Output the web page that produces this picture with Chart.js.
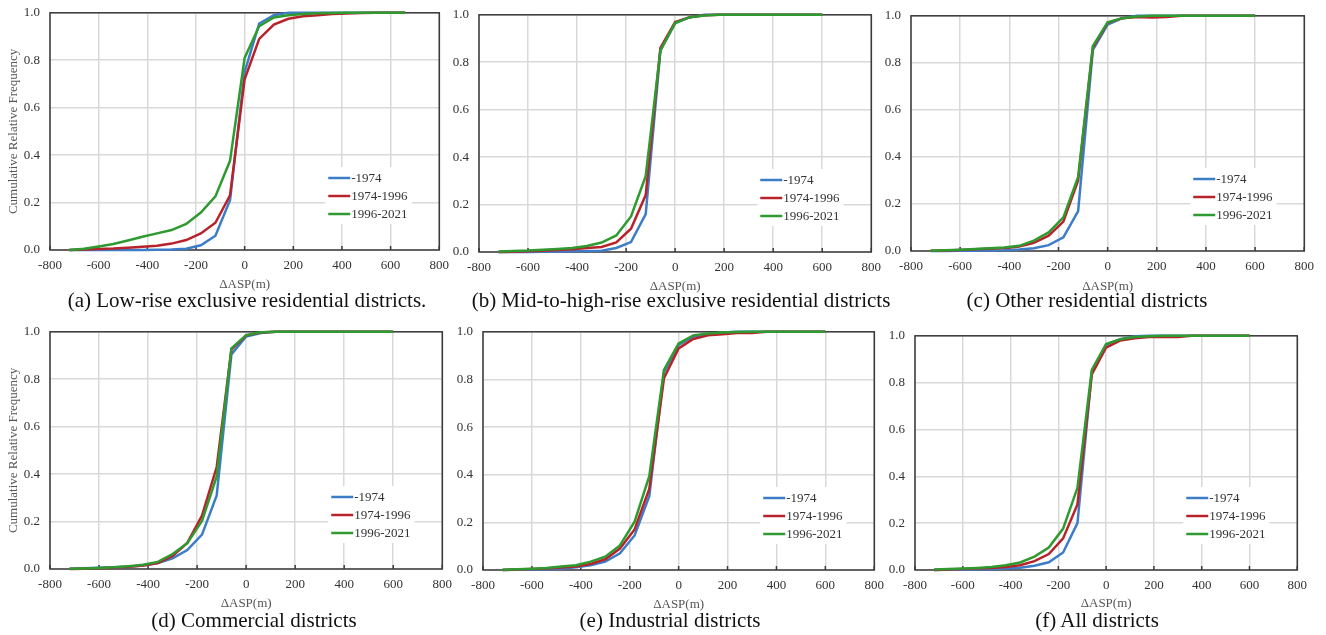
<!DOCTYPE html>
<html>
<head>
<meta charset="utf-8">
<title>Cumulative relative frequency of ΔASP by district</title>
<script src="https://cdn.jsdelivr.net/npm/chart.js@4"></script>
<style>
body{margin:0;background:#fff;width:1326px;height:635px;position:relative;overflow:hidden;font-family:"Liberation Serif","Times New Roman",serif;}
canvas{position:absolute;}
.caption{position:absolute;font-size:21px;color:#111;white-space:nowrap;transform:translate(-50%,-50%);}
</style>
</head>
<body>
<script>

// ΔASP class values (m), shared by all panels
let aspBins = [-720,-660,-600,-540,-480,-420,-360,-300,-240,-180,-120,-60,0,60,120,180,240,300,360,420,480,540,600,660];

let periods = ["-1974","1974-1996","1996-2021"];
let periodColors = ["#3d7dc8","#b8232b","#2e9a30"];

// (a) low-rise exclusive residential
let lowRise1974 = [0,0,0,0,0,0,0.001,0.002,0.005,0.02,0.06,0.21,0.75,0.955,0.99,1,1,1,1,1,1,1,1,1];
let lowRise1996 = [0,0.002,0.004,0.006,0.01,0.014,0.018,0.027,0.042,0.07,0.115,0.23,0.72,0.89,0.95,0.975,0.985,0.99,0.995,0.997,0.999,1,1,1];
let lowRise2021 = [0,0.005,0.015,0.025,0.04,0.056,0.07,0.084,0.11,0.158,0.226,0.376,0.81,0.944,0.98,0.99,0.995,0.998,0.999,1,1,1,1,1];

// (b) mid-to-high-rise exclusive residential
let midHigh1974 = [0,0,0,0.001,0.002,0.003,0.004,0.005,0.017,0.042,0.16,0.85,0.965,0.99,1,1,1,1,1,1,1,1,1];
let midHigh1996 = [0,0.001,0.003,0.005,0.008,0.012,0.017,0.021,0.04,0.098,0.24,0.86,0.97,0.99,0.998,1,1,1,1,1,1,1,1];
let midHigh2021 = [0.002,0.004,0.006,0.01,0.013,0.017,0.025,0.04,0.07,0.15,0.32,0.85,0.965,0.99,0.997,1,1,1,1,1,1,1,1];

// (c) other residential
let otherRes1974 = [0,0,0.001,0.001,0.002,0.003,0.006,0.012,0.025,0.058,0.17,0.855,0.963,0.99,1,1,1,1,1,1,1,1,1];
let otherRes1996 = [0.001,0.002,0.004,0.007,0.01,0.013,0.019,0.035,0.065,0.125,0.3,0.865,0.97,0.99,0.995,0.993,0.995,1,1,1,1,1,1];
let otherRes2021 = [0.001,0.003,0.005,0.008,0.012,0.015,0.022,0.044,0.079,0.143,0.315,0.872,0.972,0.99,0.997,1,1,1,1,1,1,1,1];

// (d) commercial
let commercial1974 = [0.001,0.003,0.005,0.007,0.01,0.015,0.025,0.045,0.08,0.145,0.31,0.905,0.98,0.995,1,1,1,1,1,1,1,1,1];
let commercial1996 = [0,0.001,0.003,0.006,0.01,0.015,0.025,0.055,0.11,0.225,0.43,0.925,0.985,0.997,1,1,1,1,1,1,1,1,1];
let commercial2021 = [0.001,0.002,0.004,0.007,0.012,0.018,0.03,0.063,0.109,0.203,0.39,0.93,0.986,0.998,1,1,1,1,1,1,1,1,1];

// (e) industrial
let industrial1974 = [0,0.001,0.002,0.003,0.005,0.012,0.02,0.035,0.07,0.145,0.31,0.83,0.945,0.98,0.99,0.997,1,1,1,1,1,1,1];
let industrial1996 = [0,0.002,0.004,0.006,0.01,0.015,0.025,0.045,0.09,0.17,0.34,0.805,0.93,0.97,0.985,0.99,0.995,0.995,1,1,1,1,1];
let industrial2021 = [0.001,0.003,0.005,0.008,0.015,0.02,0.035,0.056,0.103,0.203,0.394,0.84,0.951,0.985,0.993,0.997,0.999,1,1,1,1,1,1];

// (f) all districts
let allDist1974 = [0,0.001,0.001,0.002,0.003,0.006,0.01,0.018,0.033,0.075,0.2,0.845,0.963,0.985,0.998,1,1,1,1,1,1,1,1];
let allDist1996 = [0,0.002,0.004,0.006,0.009,0.013,0.02,0.038,0.068,0.135,0.28,0.835,0.95,0.98,0.99,0.995,0.995,0.995,1,1,1,1,1];
let allDist2021 = [0.002,0.004,0.006,0.009,0.013,0.02,0.032,0.057,0.096,0.177,0.351,0.854,0.965,0.985,0.995,0.998,1,1,1,1,1,1,1];

let captions = [
"(a) Low-rise exclusive residential districts.",
"(b) Mid-to-high-rise exclusive residential districts",
"(c) Other residential districts",
"(d) Commercial districts",
"(e) Industrial districts",
"(f) All districts"
];

// plot-area boxes (page px) for each panel
let panels = [
{series:[lowRise1974,lowRise1996,lowRise2021], L:50, R:440, T:13, B:251, xTitleY:285, capX:247, capY:300, yTitle:true},
{series:[midHigh1974,midHigh1996,midHigh2021], L:479, R:872, T:15, B:253, xTitleY:287, capX:681, capY:300},
{series:[otherRes1974,otherRes1996,otherRes2021], L:911, R:1305, T:16, B:252, xTitleY:287, capX:1087, capY:300},
{series:[commercial1974,commercial1996,commercial2021], L:50, R:443, T:332, B:570, xTitleY:604, capX:254, capY:620, yTitle:true},
{series:[industrial1974,industrial1996,industrial2021], L:483, R:875, T:332, B:571, xTitleY:605, capX:670, capY:620},
{series:[allDist1974,allDist1996,allDist2021], L:915, R:1298, T:336, B:571, xTitleY:604, capX:1097, capY:620}
];

let serif = "'Liberation Serif','Times New Roman',serif";

// frame around the plot plus short inside ticks on the x axis
let framePlugin = {
id:"frame",
beforeDatasetsDraw(chart){
let a = chart.chartArea;
let ctx = chart.ctx;
let xs = chart.scales.x;
ctx.save();
ctx.strokeStyle = "#3a3a3a";
ctx.lineWidth = 1.5;
ctx.strokeRect(a.left, a.top, a.right-a.left, a.bottom-a.top);
xs.ticks.forEach(t=>{
let px = xs.getPixelForValue(t.value);
ctx.beginPath();
ctx.moveTo(px, a.bottom);
ctx.lineTo(px, a.bottom-4);
ctx.stroke();
});
ctx.restore();
}
};

// legend sitting inside the lower right of the plot
let insideLegend = {
id:"insideLegend",
afterDraw(chart){
let a = chart.chartArea;
let ctx = chart.ctx;
ctx.save();
ctx.font = "13px " + serif;
let x0 = a.right - 111;
let rows = [a.bottom-72, a.bottom-54, a.bottom-36];
let w = 0;
chart.data.datasets.forEach(d=>{ w = Math.max(w, ctx.measureText(d.label).width); });
ctx.fillStyle = "#fff";
ctx.fillRect(x0-3, rows[0]-11, 24+w+6, rows[2]-rows[0]+21);
chart.data.datasets.forEach((d,i)=>{
ctx.strokeStyle = d.borderColor;
ctx.lineWidth = 2.5;
ctx.beginPath();
ctx.moveTo(x0, rows[i]);
ctx.lineTo(x0+22, rows[i]);
ctx.stroke();
ctx.fillStyle = "#333";
ctx.textBaseline = "middle";
ctx.fillText(d.label, x0+23, rows[i]+1);
});
ctx.restore();
}
};

function buildChart(p, w, h, yAxisW, xAxisH){

let canvas = document.createElement("canvas");
canvas.width = w;
canvas.height = h;
document.body.appendChild(canvas);

let datasets = p.series.map((vals,i)=>({
label:periods[i],
data:vals.map((v,k)=>({x:aspBins[k], y:v})),
borderColor:periodColors[i],
borderWidth:2.5,
pointRadius:0,
tension:0,
fill:false,
clip:false,
order:3-i
}));

return new Chart(canvas,{
type:"line",
data:{datasets:datasets},
plugins:[framePlugin, insideLegend],
options:{
responsive:false,
animation:false,
events:[],
layout:{padding:{left:0, top:10, right:16, bottom:0}},
plugins:{legend:{display:false}, tooltip:{enabled:false}},
scales:{
x:{
type:"linear",
min:-800,
max:800,
grid:{color:"#d9d9d9", lineWidth:1.5, drawTicks:false},
border:{display:false},
ticks:{stepSize:200, padding:8, color:"#333", font:{family:serif, size:13}},
title:{display:true, text:"ΔASP(m)", color:"#555", padding:{top:0,bottom:0}, font:{family:serif, size:13, lineHeight:1.2}},
afterFit:s=>{ s.height = xAxisH; }
},
y:{
min:0,
max:1,
grid:{color:"#d9d9d9", lineWidth:1.5, drawTicks:false},
border:{display:false},
ticks:{stepSize:0.2, padding:10, color:"#333", font:{family:serif, size:13}, callback:v=>v.toFixed(1)},
title:{display:!!p.yTitle, text:"Cumulative Relative Frequency", color:"#555", padding:{top:6,bottom:0}, font:{family:serif, size:13, lineHeight:1.2}},
afterFit:s=>{ s.width = yAxisW; }
}
}
}
});

}

function drawPanel(p){

let yAxisW = p.yTitle ? p.L : 40;
let xAxisH = Math.round(p.xTitleY + 7.8 - p.B);
let w = p.R + 16 - (p.L - yAxisW);
let h = p.B + xAxisH - (p.T - 10);

// first pass to see where the plot area lands, then rebuild at the corrected size
let chart = buildChart(p, w, h, yAxisW, xAxisH);
let a = chart.chartArea;
w += (p.R - p.L) - (a.right - a.left);
h += (p.B - p.T) - (a.bottom - a.top);
chart.canvas.remove();
chart.destroy();

chart = buildChart(p, w, h, yAxisW, xAxisH);
chart.canvas.style.left = (p.L - chart.chartArea.left) + "px";
chart.canvas.style.top = (p.T - chart.chartArea.top) + "px";

let cap = document.createElement("div");
cap.className = "caption";
cap.style.left = p.capX + "px";
cap.style.top = p.capY + "px";
cap.textContent = p.caption;
document.body.appendChild(cap);

}

panels.forEach((p,i)=>{
p.caption = captions[i];
drawPanel(p);
});

</script>
</body>
</html>
